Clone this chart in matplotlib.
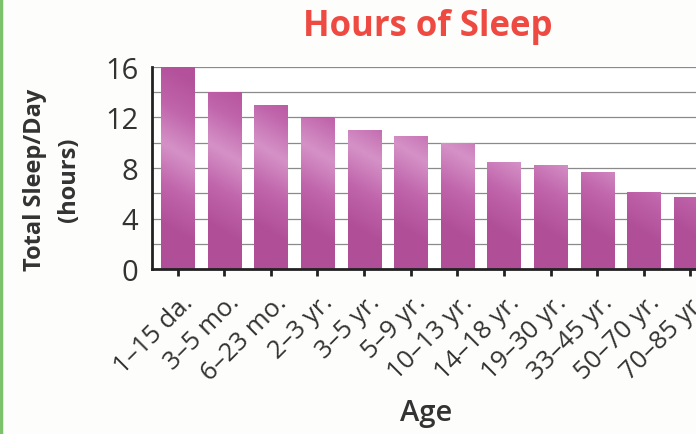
"""Hours of sleep per day by age group: bar chart."""

import numpy as np
import matplotlib
matplotlib.use("Agg")
import matplotlib.pyplot as plt
from matplotlib.colors import LinearSegmentedColormap
from matplotlib.transforms import ScaledTranslation

# data
ages = ["1–15 da.", "3–5 mo.", "6–23 mo.", "2–3 yr.", "3–5 yr.", "5–9 yr.",
        "10–13 yr.", "14–18 yr.", "19–30 yr.", "33–45 yr.", "50–70 yr.", "70–85 yr."]
hours = [16, 14, 13, 12, 11, 10.5, 10, 8.5, 8.2, 7.7, 6.1, 5.7]
y_ticks = [0, 4, 8, 12, 16]
grid_lines = [2, 4, 6, 8, 10, 12, 14, 16]

plt.rcParams["font.family"] = ["Open Sans", "DejaVu Sans"]

fig = plt.figure(figsize=(6.96, 4.35), dpi=100, facecolor="#fdfdfb")
ax = fig.add_axes([152 / 696, 1 - 270 / 435, 1 - 152 / 696 + 0.02, 202 / 435])
ax.set_facecolor("white")

x = np.arange(len(ages))
bars = ax.bar(x, hours, width=0.71, color="#b8589f", zorder=2)

# soft diagonal sheen like the printed bars
sheen = LinearSegmentedColormap.from_list(
    "sheen", ["#b04f98", "#c064ab", "#d592c7", "#c064ab", "#b3519b"])
for b in bars:
    x0, w, h = b.get_x(), b.get_width(), b.get_height()
    u = np.linspace(0, 1, 20)
    v = np.linspace(h, 0, 80)
    U, V = np.meshgrid(u, v)
    g = (V - 3.5 + 1.5 * U) / 13.0
    im = ax.imshow(g, cmap=sheen, vmin=0, vmax=1, aspect="auto",
                   extent=(x0, x0 + w, 0, h), zorder=3, interpolation="bilinear")
    im.set_clip_path(b)

for gl in grid_lines:
    ax.axhline(gl, color="#8a8a8a", linewidth=0.9, zorder=1)

ax.set_xlim(-0.55, 11.42)
ax.set_ylim(0, 16)
ax.set_yticks(y_ticks)
ax.set_yticklabels([str(t) for t in y_ticks], fontsize=21, color="#333333")
ax.tick_params(axis="y", length=0, pad=10)
ax.set_xticks(x)
ax.set_xticklabels(ages, rotation=45, ha="right", va="center",
                   rotation_mode="anchor", fontsize=18.5, color="#333333")
ax.tick_params(axis="x", length=5, width=2, color="#222222", pad=6)
shift = ScaledTranslation(12 / 100, -14 / 100, fig.dpi_scale_trans)
for lbl in ax.get_xticklabels():
    lbl.set_transform(lbl.get_transform() + shift)

for side in ["top", "right"]:
    ax.spines[side].set_visible(False)
for side in ["left", "bottom"]:
    ax.spines[side].set_linewidth(2)
    ax.spines[side].set_color("#222222")
    ax.spines[side].set_zorder(4)

fig.text(428 / 696, 1 - 27 / 435, "Hours of Sleep", ha="center", va="center",
         fontsize=25, fontweight="bold", color="#ee4a42")
fig.text(52 / 696, 1 - 180 / 435, "Total Sleep/Day\n(hours)", ha="center",
         va="center", rotation=90, fontsize=17, fontweight="bold",
         color="#333333", linespacing=1.55)
fig.text(426 / 696, 1 - 414 / 435, "Age", ha="center", va="center",
         fontsize=21, fontweight="semibold", color="#333333")

# green page border at the left edge
fig.add_artist(plt.Line2D([0.002, 0.002], [0, 1], color="#7cc26a", linewidth=2.5,
                          transform=fig.transFigure))

fig.savefig("out.png", dpi=100, facecolor=fig.get_facecolor())
